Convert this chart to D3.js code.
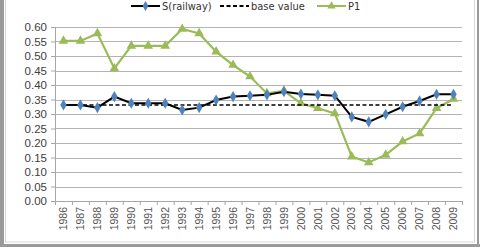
<!DOCTYPE html>
<html>
<head>
<meta charset="utf-8">
<script src="https://cdn.jsdelivr.net/npm/d3@7"></script>
<style>
  body { margin: 0; background: #fff; }
  svg { display: block; font-family: "Liberation Sans Narrow", "DejaVu Sans Condensed", Arial, sans-serif; }
</style>
</head>
<body>
<div id="viz"></div>
<script>
'use strict';

// chart data
const years = ['1986','1987','1988','1989','1990','1991','1992','1993','1994','1995','1996','1997',
               '1998','1999','2000','2001','2002','2003','2004','2005','2006','2007','2008','2009'];
const railway = [0.331, 0.331, 0.322, 0.360, 0.337, 0.337, 0.337, 0.314, 0.322, 0.348, 0.360, 0.363,
                 0.366, 0.377, 0.369, 0.366, 0.363, 0.290, 0.273, 0.299, 0.325, 0.345, 0.368, 0.368];
const baseValue = 0.331;
const p1 = [0.552, 0.552, 0.578, 0.457, 0.535, 0.535, 0.535, 0.593, 0.578, 0.515, 0.469, 0.429,
            0.371, 0.380, 0.337, 0.320, 0.302, 0.153, 0.133, 0.159, 0.205, 0.233, 0.320, 0.352];
const yTicks = [0, 0.05, 0.10, 0.15, 0.20, 0.25, 0.30, 0.35, 0.40, 0.45, 0.50, 0.55, 0.60];

const W = 480, H = 247;
const margin = { top: 27, right: 18, bottom: 46, left: 55 };
const width = W - margin.left - margin.right;
const height = H - margin.top - margin.bottom;

const root = d3.select('#viz').append('svg')
    .attr('width', W)
    .attr('height', H);

// frame
root.append('rect').attr('x', 0).attr('y', 0).attr('width', 4).attr('height', H).attr('fill', '#9a9a9a');
root.append('rect').attr('x', 0).attr('y', 244).attr('width', W).attr('height', 3).attr('fill', '#9a9a9a');
root.append('rect').attr('x', 477).attr('y', 0).attr('width', 2).attr('height', H).attr('fill', '#9a9a9a');
root.append('rect').attr('x', 5.5).attr('y', -2).attr('width', 469).attr('height', 244)
    .attr('fill', 'none').attr('stroke', '#d6d6d6');

const svg = root.append('g').attr('transform', `translate(${margin.left},${margin.top})`);

const xScale = d3.scaleBand().domain(years).range([0, width]);
const yScale = d3.scaleLinear().domain([0, 0.6]).range([height, 0]);
const cx = d => xScale(d) + xScale.bandwidth() / 2;

// gridlines
svg.append('g')
    .selectAll('line')
    .data(yTicks.filter(t => t > 0))
    .join('line')
    .attr('x1', 0).attr('x2', width)
    .attr('y1', d => Math.round(yScale(d)) + 0.5).attr('y2', d => Math.round(yScale(d)) + 0.5)
    .attr('stroke', '#b4b4b4').attr('stroke-width', 1);

// y axis
const yAxis = svg.append('g')
    .call(d3.axisLeft(yScale).tickValues(yTicks).tickFormat(d3.format('.2f')).tickSize(4).tickPadding(4));
yAxis.select('.domain').attr('stroke', '#a6a6a6');
yAxis.selectAll('.tick line').attr('stroke', '#a6a6a6');
yAxis.selectAll('text').attr('fill', '#404040').style('font-size', '11.5px');

// x axis
const xAxis = svg.append('g')
    .attr('transform', `translate(0,${height})`)
    .call(d3.axisBottom(xScale).tickSize(0));
xAxis.select('.domain').attr('stroke', '#a6a6a6');
xAxis.selectAll('text')
    .attr('transform', 'rotate(-90)')
    .attr('x', -6).attr('y', 0).attr('dy', '0.35em')
    .style('text-anchor', 'end')
    .attr('fill', '#555').style('font-size', '10.5px');
// tick marks between categories
xAxis.append('g')
    .selectAll('line')
    .data(years.concat(['end']))
    .join('line')
    .attr('x1', (d, i) => i * xScale.step() + 0.5).attr('x2', (d, i) => i * xScale.step() + 0.5)
    .attr('y1', 0).attr('y2', 4)
    .attr('stroke', '#a6a6a6');

const line = d3.line().x((d, i) => cx(years[i])).y(d => yScale(d));

// P1
svg.append('path').datum(p1)
    .attr('d', line)
    .attr('fill', 'none').attr('stroke', '#9bbb59').attr('stroke-width', 2.2);
svg.append('g').selectAll('path')
    .data(p1)
    .join('path')
    .attr('d', d3.symbol(d3.symbolTriangle, 40))
    .attr('transform', (d, i) => `translate(${cx(years[i])},${yScale(d)})`)
    .attr('fill', '#9bbb59');

// base value
svg.append('line')
    .attr('x1', cx(years[0])).attr('x2', cx(years[years.length - 1]))
    .attr('y1', yScale(baseValue)).attr('y2', yScale(baseValue))
    .attr('stroke', '#000').attr('stroke-width', 1.6).attr('stroke-dasharray', '4,2.5');

// S(railway)
svg.append('path').datum(railway)
    .attr('d', line)
    .attr('fill', 'none').attr('stroke', '#000').attr('stroke-width', 2);
svg.append('g').selectAll('path')
    .data(railway)
    .join('path')
    .attr('d', d3.symbol(d3.symbolDiamond, 36))
    .attr('transform', (d, i) => `translate(${cx(years[i])},${yScale(d)})`)
    .attr('fill', '#4f81bd');

// legend
const legend = root.append('g').attr('transform', 'translate(0,6)').style('font-size', '11px');
const legendItems = [
    { label: 'S(railway)', x: 131, color: '#000', marker: d3.symbolDiamond, markerColor: '#4f81bd', dash: null },
    { label: 'base value', x: 220, color: '#000', marker: null, dash: '4,2.5' },
    { label: 'P1', x: 317, color: '#9bbb59', marker: d3.symbolTriangle, markerColor: '#9bbb59', dash: null }
];
legendItems.forEach(it => {
    legend.append('line')
        .attr('x1', it.x).attr('x2', it.x + 29).attr('y1', 0).attr('y2', 0)
        .attr('stroke', it.color).attr('stroke-width', 2)
        .attr('stroke-dasharray', it.dash);
    if (it.marker) {
        legend.append('path')
            .attr('d', d3.symbol(it.marker, 30))
            .attr('transform', `translate(${it.x + 14.5},0)`)
            .attr('fill', it.markerColor);
    }
    legend.append('text')
        .attr('x', it.x + 31).attr('y', 0).attr('dy', '0.35em')
        .attr('fill', '#333')
        .text(it.label);
});
</script>
</body>
</html>
